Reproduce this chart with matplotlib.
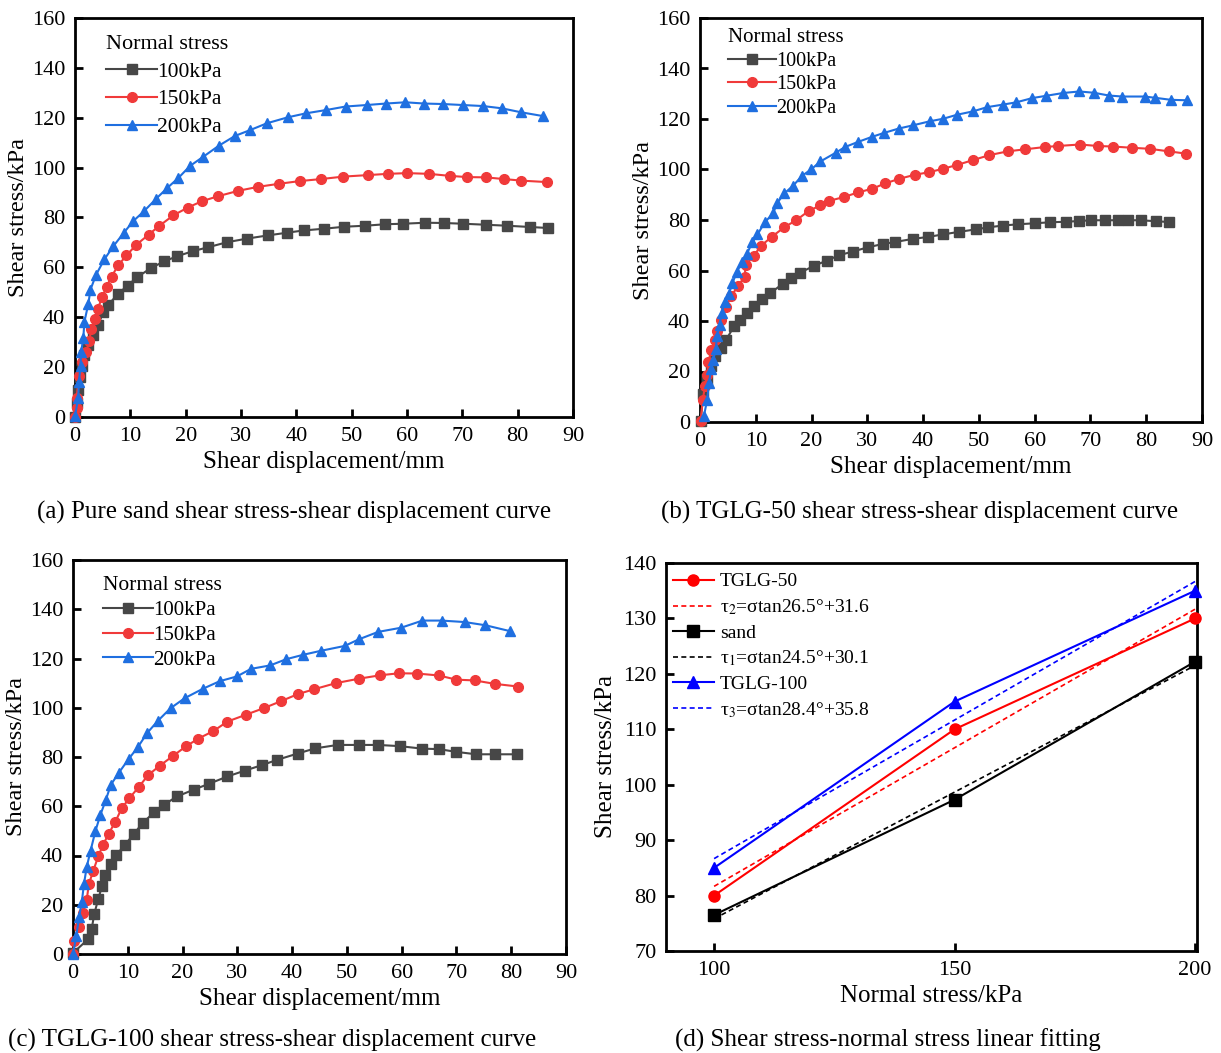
import numpy as np
import matplotlib
matplotlib.use("Agg")
from matplotlib import pyplot as plt

plt.rcParams["font.family"] = ["Liberation Serif", "DejaVu Serif"]
plt.rcParams["mathtext.fontset"] = "stix"

# ---- panel (a): pure sand ----
a_x100 = [0, 0.3, 0.6, 0.9, 1.2, 1.7, 2.4, 3.3, 4.2, 5.1, 6.0, 7.8, 9.5, 11.2, 13.7, 16.1, 18.5, 21.3, 24.1, 27.5,
          31.0, 34.8, 38.3, 41.3, 45.0, 48.7, 52.4, 56.1, 59.3, 63.3, 66.6, 70.2, 74.2, 78.1, 82.2, 85.4]
a_y100 = [0, 5.5, 11.0, 16.0, 20.5, 25.0, 29.0, 33.0, 37.0, 42.0, 45.0, 49.4, 52.7, 56.0, 59.7, 62.4, 64.5, 66.5, 68.1, 70.1,
          71.5, 72.8, 73.9, 74.8, 75.5, 76.3, 76.7, 77.3, 77.5, 77.9, 77.8, 77.5, 77.1, 76.7, 76.2, 75.8]
a_x150 = [0, 0.3, 0.3, 0.7, 1.3, 2.0, 2.6, 2.9, 3.6, 4.1, 4.9, 5.7, 6.6, 7.8, 9.3, 11.1, 13.3, 15.2, 17.8, 20.4,
          22.9, 25.8, 29.5, 33.1, 36.8, 40.6, 44.4, 48.5, 52.9, 56.5, 60.0, 64.0, 67.7, 70.9, 74.2, 77.6, 80.6, 85.3]
a_y150 = [0, 3.5, 7.8, 16.5, 21.9, 25.9, 30.6, 35.3, 39.3, 43.3, 48.0, 52.3, 56.3, 60.8, 64.8, 69.1, 73.1, 76.6, 80.9, 84.0,
          86.5, 88.5, 90.7, 92.3, 93.5, 94.6, 95.4, 96.4, 97.0, 97.5, 97.8, 97.5, 96.7, 96.2, 96.1, 95.4, 94.8, 94.2]
a_x200 = [0, 0.6, 0.7, 1.0, 1.1, 1.5, 1.7, 2.4, 2.8, 3.8, 5.3, 6.9, 8.8, 10.5, 12.5, 14.7, 16.7, 18.7, 20.8, 23.2,
          26.0, 28.9, 31.7, 34.7, 38.5, 41.8, 45.4, 48.9, 52.7, 56.2, 59.7, 63.1, 66.5, 70.1, 73.7, 77.1, 80.6, 84.5]
a_y200 = [0.4, 7.8, 14.1, 20.3, 25.9, 31.7, 38.2, 45.3, 51.1, 57.0, 63.2, 68.4, 73.8, 78.5, 82.6, 87.6, 91.9, 95.9, 100.7, 104.4,
          108.8, 112.7, 115.1, 117.8, 120.2, 121.8, 123.1, 124.5, 125.1, 125.7, 126.2, 125.7, 125.5, 125.1, 124.7, 123.8, 122.2, 120.7]

# ---- panel (b): TGLG-50 ----
b_x100 = [0.1, 0.6, 1.3, 2.0, 2.7, 3.7, 4.7, 6.1, 7.2, 8.5, 9.6, 11.2, 12.6, 14.8, 16.3, 18.0, 20.4, 22.7, 25.0, 27.4,
          30.1, 32.8, 35.0, 38.1, 40.9, 43.6, 46.4, 49.5, 51.7, 54.3, 57.0, 60.0, 62.8, 65.6, 68.0, 70.1, 72.6, 75.0,
          76.8, 79.0, 81.8, 84.1]
b_y100 = [0.4, 10.9, 16.8, 22.1, 26.0, 29.3, 32.6, 37.9, 40.5, 43.2, 46.0, 48.7, 51.0, 54.7, 57.0, 59.2, 61.8, 63.9, 66.1, 67.5,
          69.2, 70.5, 71.3, 72.5, 73.3, 74.3, 75.3, 76.3, 77.1, 77.8, 78.3, 78.7, 79.1, 79.3, 79.6, 79.9, 79.9, 79.9,
          79.9, 79.9, 79.5, 79.2]
b_x150 = [0.1, 0.5, 0.9, 1.3, 1.5, 2.0, 2.7, 3.1, 3.8, 4.7, 5.6, 6.8, 8.0, 8.2, 9.6, 11.0, 12.9, 15.1, 17.3, 19.5,
          21.6, 23.2, 25.8, 28.3, 30.9, 33.2, 35.7, 38.5, 41.0, 43.6, 46.1, 48.9, 51.9, 55.2, 58.3, 61.8, 64.1, 68.1,
          71.4, 74.0, 77.5, 80.6, 84.0, 87.1]
b_y150 = [0.4, 8.9, 14.2, 18.8, 23.7, 28.4, 32.4, 36.2, 40.5, 45.5, 50.0, 53.7, 57.6, 62.2, 65.8, 69.9, 73.4, 77.1, 80.0, 83.6,
          85.8, 87.6, 89.1, 90.9, 92.4, 94.5, 96.3, 97.9, 98.9, 100.3, 101.8, 103.7, 105.7, 107.2, 108.0, 108.9, 109.3, 109.9,
          109.3, 109.1, 108.6, 108.2, 107.2, 106.3]
b_x200 = [0.7, 1.3, 1.6, 2.0, 2.4, 2.8, 3.1, 3.5, 3.9, 4.4, 5.2, 5.8, 6.6, 7.5, 8.4, 9.4, 10.3, 11.7, 13.1, 13.8,
          15.1, 16.7, 18.3, 19.9, 21.6, 24.3, 26.0, 28.3, 30.8, 33.0, 35.6, 38.2, 41.2, 43.6, 46.1, 48.9, 51.5, 54.3,
          56.7, 59.6, 62.1, 65.1, 68.0, 70.6, 73.3, 75.7, 79.7, 81.6, 84.4, 87.4]
b_y200 = [2.4, 8.9, 15.5, 20.8, 24.7, 28.9, 34.2, 38.6, 43.2, 47.6, 50.7, 55.0, 59.3, 63.3, 66.6, 71.2, 74.3, 79.3, 82.6, 86.6,
          90.5, 93.6, 97.5, 100.0, 103.2, 106.6, 108.9, 110.9, 112.9, 114.5, 116.2, 117.5, 119.1, 120.1, 121.7, 123.0, 124.7, 125.7,
          126.6, 128.3, 129.2, 130.3, 130.9, 130.4, 129.3, 128.9, 128.9, 128.4, 127.6, 127.4]

# ---- panel (c): TGLG-100 ----
c_x100 = [0, 2.8, 3.4, 3.9, 4.6, 5.3, 5.8, 7.0, 7.9, 9.5, 11.1, 12.7, 14.8, 16.6, 19.0, 22.0, 24.8, 28.2, 31.4, 34.5,
          37.2, 41.0, 44.2, 48.3, 52.2, 55.7, 59.7, 63.7, 66.8, 69.9, 73.6, 77.0, 81.0]
c_y100 = [0.4, 6.1, 10.1, 16.4, 22.3, 27.5, 31.9, 36.7, 40.2, 44.4, 48.7, 53.2, 57.5, 60.6, 64.0, 66.7, 69.1, 72.1, 74.5, 76.7,
          78.8, 81.4, 83.5, 84.9, 84.9, 84.9, 84.4, 83.4, 83.2, 82.1, 81.1, 81.1, 81.1]
c_x150 = [0, 0.2, 1.1, 1.8, 2.5, 2.9, 3.7, 4.6, 5.5, 6.5, 7.7, 8.9, 10.3, 12.0, 13.7, 15.8, 18.3, 20.6, 22.9, 25.6,
          28.2, 31.6, 34.9, 38.0, 41.0, 44.0, 48.0, 52.2, 56.1, 59.5, 62.8, 66.8, 70.0, 73.3, 77.0, 81.3]
c_y150 = [0, 5.1, 10.8, 16.6, 22.0, 28.4, 33.8, 39.6, 44.4, 48.8, 53.6, 59.2, 63.3, 67.8, 72.6, 76.4, 80.5, 84.3, 87.5, 90.5,
          94.4, 97.2, 99.9, 102.7, 105.5, 107.5, 110.0, 111.8, 113.2, 114.0, 113.9, 113.1, 111.4, 111.1, 109.7, 108.6]
c_x200 = [0, 0.6, 1.1, 1.6, 2.0, 2.5, 3.2, 4.1, 5.0, 6.0, 6.9, 8.4, 10.2, 11.8, 13.6, 15.5, 17.8, 20.4, 23.7, 26.8,
          29.9, 32.5, 36.0, 38.9, 42.0, 45.2, 49.6, 52.2, 55.7, 59.9, 63.8, 67.3, 71.5, 75.3, 79.8]
c_y200 = [0, 7.4, 14.9, 21.0, 28.4, 35.3, 41.9, 50.0, 56.5, 62.6, 68.7, 73.7, 79.3, 83.9, 89.9, 94.7, 99.8, 103.9, 107.7, 110.8,
          112.7, 115.8, 117.2, 119.7, 121.5, 123.1, 125.1, 127.8, 130.8, 132.5, 135.4, 135.4, 134.8, 133.5, 131.1]

# ---- panel (d): shear stress vs normal stress ----
normal_stress = [100, 150, 200]
tau_sand = [76.5, 97.3, 122.2]
tau_tglg50 = [80.0, 110.0, 130.0]
tau_tglg100 = [85.0, 115.0, 135.0]
fit_labels = ["τ$_2$=σtan26.5°+31.6", "τ$_1$=σtan24.5°+30.1", "τ$_3$=σtan28.4°+35.8"]

load_labels = ["100kPa", "150kPa", "200kPa"]
captions = ["(a) Pure sand shear stress-shear displacement curve",
            "(b) TGLG-50 shear stress-shear displacement curve",
            "(c) TGLG-100 shear stress-shear displacement curve",
            "(d) Shear stress-normal stress linear fitting"]

W, H = 1221, 1053
fig = plt.figure(figsize=(W / 100, H / 100), dpi=100)


def px_axes(x0, y0, x1, y1):
    return fig.add_axes([x0 / W, 1 - y1 / H, (x1 - x0) / W, (y1 - y0) / H])


def style(ax):
    for s in ax.spines.values():
        s.set_linewidth(2)
    ax.tick_params(direction="in", length=6, width=2, labelsize=16, top=False, right=False, pad=7)


gray, red, blue = "#474747", "#f03a3a", "#1f6fe0"


def curve_panel(ax, data, leg_pos, fs, spacing):
    style(ax)
    styles = [(gray, "s"), (red, "o"), (blue, "^")]
    for (x, y), (c, m), lab in zip(data, styles, load_labels):
        ax.plot(x, y, color=c, marker=m, ms=7, lw=1.5, label=lab, clip_on=False, zorder=3)
    ax.set_xlim(0, 90)
    ax.set_ylim(0, 160)
    ax.set_xticks(range(0, 91, 10))
    ax.set_yticks(range(0, 161, 20))
    ax.set_xlabel("Shear displacement/mm", fontsize=18, labelpad=4)
    ax.set_ylabel("Shear stress/kPa", fontsize=17.5, labelpad=2)
    ax.legend(title="Normal stress", frameon=False, fontsize=fs, title_fontsize=fs + 0.5,
              loc="upper left", bbox_to_anchor=leg_pos, handlelength=2.4, handletextpad=0.0,
              labelspacing=spacing, borderpad=0, alignment="left")


ax_a = px_axes(75, 18, 573, 417)
curve_panel(ax_a, [(a_x100, a_y100), (a_x150, a_y150), (a_x200, a_y200)], (0.04, 0.985), 15.5, 0.36)
ax_b = px_axes(700, 18, 1202, 422)
curve_panel(ax_b, [(b_x100, b_y100), (b_x150, b_y150), (b_x200, b_y200)], (0.035, 1.0), 14.5, 0.22)
ax_c = px_axes(73, 560, 566, 954)
curve_panel(ax_c, [(c_x100, c_y100), (c_x150, c_y150), (c_x200, c_y200)], (0.04, 0.985), 15, 0.25)

# panel (d)
ax_d = px_axes(666, 563, 1197, 951)
style(ax_d)
xs = np.array([100, 200])
series = [(tau_tglg50, "red", "o", "TGLG-50", fit_labels[0]),
          (tau_sand, "black", "s", "sand", fit_labels[1]),
          (tau_tglg100, "blue", "^", "TGLG-100", fit_labels[2])]
for y, c, m, lab, flab in series:
    ax_d.plot(normal_stress, y, color=c, marker=m, ms=8, lw=1.5, label=lab, clip_on=False, zorder=3)
    k, b = np.polyfit(normal_stress, y, 1)
    ax_d.plot(xs, k * xs + b, color=c, ls=(0, (3, 2)), lw=1.2, label=flab)
ax_d.set_xlim(90, 200.4)
ax_d.set_ylim(70, 140)
ax_d.set_xticks(normal_stress)
ax_d.set_yticks(range(70, 141, 10))
ax_d.set_xlabel("Normal stress/kPa", fontsize=18, labelpad=4)
ax_d.set_ylabel("Shear stress/kPa", fontsize=18, labelpad=4)
ax_d.legend(frameon=False, fontsize=14, loc="upper left", bbox_to_anchor=(-0.005, 1.0),
            handlelength=2.1, handletextpad=0.3, labelspacing=0.36, borderpad=0)

cap_pos = [(294, 512), (920, 512), (272, 1040), (888, 1040)]
for (cx, cy), txt in zip(cap_pos, captions):
    fig.text(cx / W, 1 - cy / H, txt, ha="center", va="center", fontsize=18)

fig.savefig("out.png", dpi=100)
